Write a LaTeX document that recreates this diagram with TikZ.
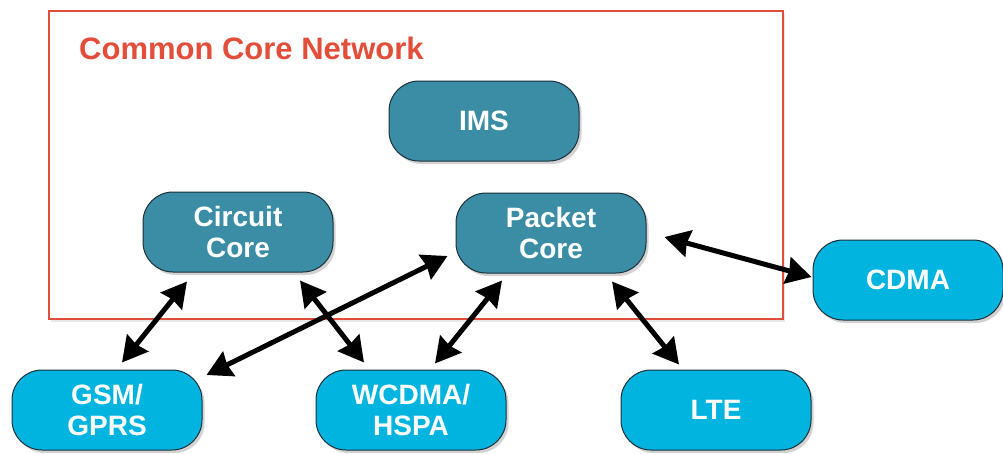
\documentclass[tikz,border=0pt]{standalone}
\usepackage{fontspec}
\setmainfont{Liberation Sans}
\usetikzlibrary{arrows.meta,shadows}
\definecolor{coreteal}{RGB}{58,141,165}
\definecolor{accblue}{RGB}{0,180,224}
\definecolor{framered}{RGB}{226,78,58}
\definecolor{edgedark}{RGB}{28,48,58}
\tikzset{
  bigtip/.tip={Stealth[length=25pt,width=27pt,inset=2pt]},
  link/.style={draw=black, line width=5pt, bigtip-bigtip}
}
\begin{document}
\begin{tikzpicture}[x=1pt,y=-1pt,
  netframe/.style={draw=framered, line width=2pt, minimum width=734pt, minimum height=308pt, inner sep=0pt,
    drop shadow={opacity=0.15, shadow xshift=2pt, shadow yshift=-3pt, fill=black!60}, fill=white},
  titletext/.style={text=framered, font=\bfseries\fontsize{31}{34}\selectfont, inner sep=0pt, anchor=base west},
  basebox/.style={rounded corners=30pt, minimum width=190pt, minimum height=80pt, inner sep=2pt,
    draw=edgedark, line width=1pt, text=white, align=center,
    font=\bfseries\fontsize{28}{31}\selectfont,
    drop shadow={opacity=0.35, shadow xshift=2.5pt, shadow yshift=-3pt}},
  corebox/.style={basebox, fill=coreteal},
  accbox/.style={basebox, fill=accblue}
]
\useasboundingbox (0,0) rectangle (1003,453);
\fill[white] (0,0) rectangle (1003,453);
\node[netframe] (ccn) at (416,165) {};
\node[titletext] (title) at (79,59) {Common Core Network};
\node[corebox] (ims) at (484,121) {IMS};
\node[corebox] (cc) at (238,232) {Circuit\\Core};
\node[corebox] (pc) at (551,233) {Packet\\Core};
\node[accbox] (cdma) at (908,280) {CDMA};
\node[accbox] (gsm) at (107,410) {GSM/\\GPRS};
\node[accbox] (wcdma) at (411,410) {WCDMA/\\HSPA};
\node[accbox] (lte) at (716,410) {LTE};
\draw[link] ([xshift=-51pt,yshift=-9pt]cc.south) -- ([xshift=15pt,yshift=7pt]gsm.north);
\draw[link] ([xshift=62pt,yshift=-8pt]cc.south) -- ([xshift=-47pt,yshift=7pt]wcdma.north);
\draw[link] ([xshift=4pt,yshift=35pt]gsm.east) -- ([xshift=-8pt,yshift=-23pt]pc.west);
\draw[link] ([xshift=24pt,yshift=6pt]wcdma.north) -- ([xshift=-49pt,yshift=-7pt]pc.south);
\draw[link] ([xshift=61pt,yshift=-8pt]pc.south) -- ([xshift=-37pt,yshift=5pt]lte.north);
\draw[link] ([xshift=18pt,yshift=-4pt]pc.east) -- ([xshift=-1pt,yshift=3pt]cdma.west);
\end{tikzpicture}
\end{document}
